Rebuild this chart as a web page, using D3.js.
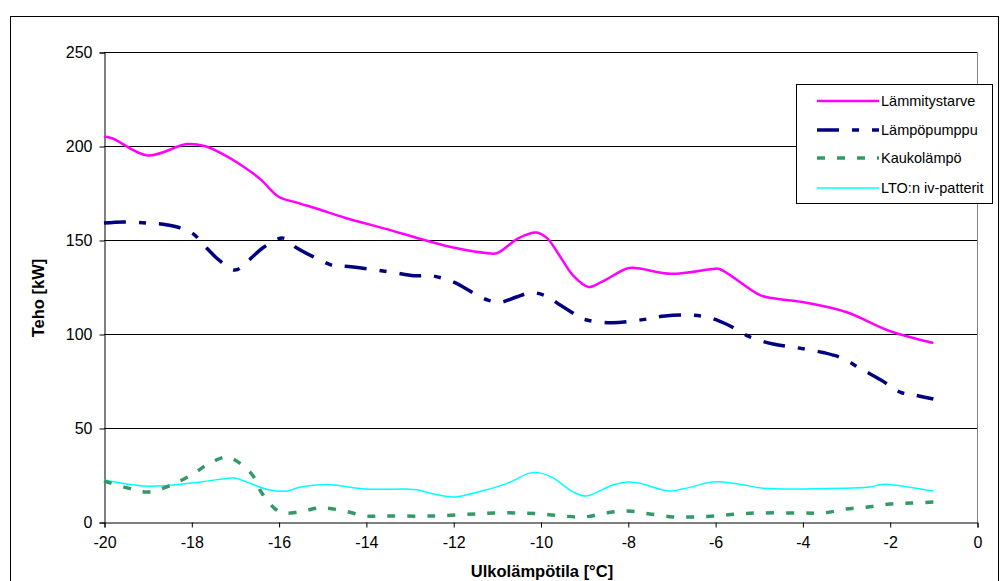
<!DOCTYPE html>
<html><head><meta charset="utf-8">
<script src="https://cdn.jsdelivr.net/npm/d3@7"></script>
<style>body{margin:0;background:#fff;font-family:"Liberation Sans",Arial,sans-serif}</style>
</head><body><svg id="c" width="1000" height="581"></svg>
<script>
const seriesNames = ["Lämmitystarve","Lämpöpumppu","Kaukolämpö","LTO:n iv-patterit"];
const xTicks = [-20,-18,-16,-14,-12,-10,-8,-6,-4,-2,0];
const yTicks = [0,50,100,150,200,250];

const lammitysT = [-20,-19.8,-19.0,-18.1,-17.7,-17.3,-16.8,-16.4,-16.0,-15.6,-15.1,-14.5,-13.4,-12.9,-12.0,-11.2,-11.0,-10.5,-10.1,-9.85,-9.6,-9.25,-8.9,-8.6,-8.0,-7.77,-7.0,-6.05,-5.9,-4.97,-4.67,-4.0,-3.0,-2.0,-1.0];
const lammitysV = [205,204,195,201,200,196,189,182,173,170,166.5,162,155,151.6,146,143,143,151,154,151,143,131,125,127.7,135,135,132,134.6,134.6,120.7,119,117,111.7,101.6,95.2];

const pumppuT = [-20,-19.55,-19.0,-18.55,-18.0,-17.65,-17.35,-17.0,-16.8,-16.35,-15.9,-15.6,-15.2,-14.7,-14.5,-13.45,-12.9,-12.5,-12.0,-11.55,-11.2,-10.9,-10.55,-10.2,-9.85,-9.55,-9.25,-9.1,-8.4,-7.55,-7.15,-6.5,-6.1,-5.7,-5.2,-4.67,-4.2,-3.5,-3.07,-2.7,-2.2,-1.75,-1.45,-1.0];
const pumppuV = [159,159.6,159,158,154,145.7,139,134,136.7,146,151,146,141,136,136,133,131,131,127.7,122,118,117,119.7,122,120,115.4,111,108.5,106,108,109.6,110,108.5,104.8,98.4,94.7,93,90,87,82,75.5,69,67.6,65.4];

const kaukoT = [-20,-19.45,-19.0,-18.53,-18.0,-17.6,-17.2,-17.0,-16.6,-16.4,-16.1,-15.9,-15.55,-15.1,-14.9,-14.5,-14.0,-13.5,-12.5,-11.5,-11.0,-10.5,-10.0,-9.5,-9.0,-8.5,-8.0,-7.5,-6.96,-6.5,-6.0,-5.5,-5.0,-4.0,-3.5,-3.0,-2.5,-2.0,-1.5,-1.0];
const kaukoV = [21.8,18,16,19,25,31,34.6,33,25,16,7.4,4.8,5.3,7.4,7.4,5.9,3.2,3.2,3.2,4.3,4.8,4.8,4.3,3.2,2.7,4.8,5.9,4.3,2.7,2.7,3.2,4.3,4.8,4.8,4.8,6.9,8,9.6,10.1,10.6];

const ltoT = [-20,-19.0,-18.0,-17.1,-17.0,-16.2,-15.8,-15.5,-14.9,-14.0,-13.05,-12.8,-12.45,-12.0,-11.8,-10.75,-10.25,-10.0,-9.75,-9.25,-8.95,-8.35,-8.0,-7.75,-7.05,-6.75,-6.2,-6.05,-5.85,-5.4,-4.9,-3.0,-2.45,-2.2,-2.0,-1.0];
const ltoV = [22.3,19,20.7,23.4,23.4,17,16.5,18.6,20,17.5,17.5,17,14.9,13.3,13.8,20.7,26,26,24,16,13.8,19.7,21.3,20.7,16.5,17.5,20.7,21.3,21.3,20,18,18,18.6,20,20,16.5];

const svg = d3.select("#c");
const font = "'Liberation Sans', Arial, sans-serif";
svg.append("rect").attr("x",10.5).attr("y",16.5).attr("width",988).attr("height",620)
  .attr("fill","#fff").attr("stroke","#000").attr("stroke-width",1);

const x = d3.scaleLinear().domain([-20,0]).range([104,977]);
const y = d3.scaleLinear().domain([0,250]).range([522,52]);

svg.append("g").selectAll("line").data(yTicks.filter(d=>d>0)).join("line")
  .attr("x1",104).attr("x2",977).attr("y1",d=>Math.round(y(d))+0.5).attr("y2",d=>Math.round(y(d))+0.5)
  .attr("stroke","#000").attr("stroke-width",1);
svg.append("line").attr("x1",977.5).attr("x2",977.5).attr("y1",52).attr("y2",522).attr("stroke","#808080");

const yAxis = d3.axisLeft(y).tickValues(yTicks).tickSize(5).tickPadding(7).tickFormat(d=>String(d));
const gy = svg.append("g").attr("transform","translate(104.5,0.5)").call(yAxis);
gy.select(".domain").attr("stroke","#000");
gy.selectAll("text").attr("font-family",font).attr("font-size",16).attr("fill","#000");

const xAxis = d3.axisBottom(x).tickValues(xTicks).tickSize(5).tickPadding(9).tickFormat(d=>String(d));
const gx = svg.append("g").attr("transform","translate(0.5,522.5)").call(xAxis);
gx.select(".domain").attr("stroke","#000");
gx.selectAll("text").attr("font-family",font).attr("font-size",16).attr("fill","#000");

svg.append("text").attr("x",542).attr("y",577).attr("text-anchor","middle")
  .attr("font-family",font).attr("font-size",16.5).attr("font-weight","bold").text("Ulkolämpötila [°C]");
svg.append("text").attr("transform","translate(44,298) rotate(-90)").attr("text-anchor","middle")
  .attr("font-family",font).attr("font-size",16.5).attr("font-weight","bold").text("Teho [kW]");

const styles = [
  {t:lammitysT, v:lammitysV, color:"#FF00FF", w:2.5, dash:null},
  {t:pumppuT, v:pumppuV, color:"#000080", w:3.5, dash:"22,13,7,13"},
  {t:kaukoT, v:kaukoV, color:"#339966", w:3.5, dash:"8,12"},
  {t:ltoT, v:ltoV, color:"#00FFFF", w:1.5, dash:null}
];
const line = d3.line().x(d=>x(d[0])).y(d=>y(d[1])).curve(d3.curveCatmullRom.alpha(0.5));
[3,2,1,0].forEach(i=>{
  const s = styles[i];
  const pts = s.t.map((t,j)=>[t,s.v[j]]);
  const p = svg.append("path").attr("d",line(pts)).attr("fill","none")
    .attr("stroke",s.color).attr("stroke-width",s.w).attr("stroke-linejoin","round");
  if (s.dash) p.attr("stroke-dasharray",s.dash);
});

const lg = svg.append("g");
lg.append("rect").attr("x",796.5).attr("y",84.5).attr("width",196).attr("height",119)
  .attr("fill","#fff").attr("stroke","#000");
const rowsY = [101,130,158,188];
seriesNames.forEach((n,i)=>{
  const s = styles[i];
  const l = lg.append("line").attr("x1",817).attr("x2",879).attr("y1",rowsY[i]).attr("y2",rowsY[i])
    .attr("stroke",s.color).attr("stroke-width",s.w);
  if (s.dash) l.attr("stroke-dasharray",s.dash);
  lg.append("text").attr("x",881).attr("y",rowsY[i]+5).attr("font-family",font).attr("font-size",14.5)
    .attr("fill","#000").text(n);
});
</script></body></html>
